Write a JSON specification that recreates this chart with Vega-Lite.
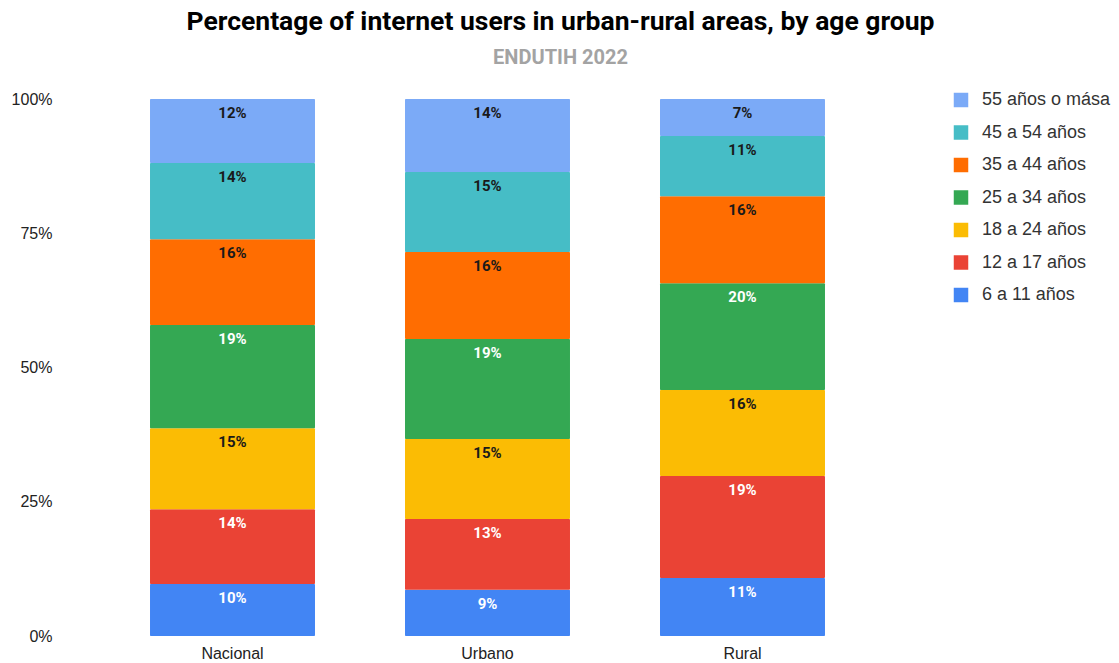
{
  "$schema": "https://vega.github.io/schema/vega-lite/v6.json",
  "autosize": "none",
  "width": 855,
  "height": 537,
  "padding": {"left": 60, "top": 99, "right": 204, "bottom": 27},
  "background": "white",
  "title": {
    "text": "Percentage of internet users in urban-rural areas, by age group",
    "subtitle": "ENDUTIH 2022",
    "anchor": "middle",
    "dx": 73,
    "offset": 23,
    "font": "Roboto",
    "fontSize": 26.5,
    "fontWeight": "bold",
    "color": "#000000",
    "subtitleFont": "Roboto",
    "subtitleFontSize": 20,
    "subtitleFontWeight": "bold",
    "subtitleColor": "#a3a3a3",
    "subtitlePadding": 13
  },
  "config": {"view": {"stroke": null}},
  "data": {
    "values": [
      {"area": "Nacional", "group": "6 a 11 años", "order": 1, "pct": 9.7, "label": "10%"},
      {"area": "Nacional", "group": "12 a 17 años", "order": 2, "pct": 13.9, "label": "14%"},
      {"area": "Nacional", "group": "18 a 24 años", "order": 3, "pct": 15.1, "label": "15%"},
      {"area": "Nacional", "group": "25 a 34 años", "order": 4, "pct": 19.2, "label": "19%"},
      {"area": "Nacional", "group": "35 a 44 años", "order": 5, "pct": 16.0, "label": "16%"},
      {"area": "Nacional", "group": "45 a 54 años", "order": 6, "pct": 14.2, "label": "14%"},
      {"area": "Nacional", "group": "55 años o mása", "order": 7, "pct": 11.9, "label": "12%"},
      {"area": "Urbano", "group": "6 a 11 años", "order": 1, "pct": 8.6, "label": "9%"},
      {"area": "Urbano", "group": "12 a 17 años", "order": 2, "pct": 13.2, "label": "13%"},
      {"area": "Urbano", "group": "18 a 24 años", "order": 3, "pct": 14.9, "label": "15%"},
      {"area": "Urbano", "group": "25 a 34 años", "order": 4, "pct": 18.6, "label": "19%"},
      {"area": "Urbano", "group": "35 a 44 años", "order": 5, "pct": 16.2, "label": "16%"},
      {"area": "Urbano", "group": "45 a 54 años", "order": 6, "pct": 14.9, "label": "15%"},
      {"area": "Urbano", "group": "55 años o mása", "order": 7, "pct": 13.6, "label": "14%"},
      {"area": "Rural", "group": "6 a 11 años", "order": 1, "pct": 10.8, "label": "11%"},
      {"area": "Rural", "group": "12 a 17 años", "order": 2, "pct": 19.0, "label": "19%"},
      {"area": "Rural", "group": "18 a 24 años", "order": 3, "pct": 16.0, "label": "16%"},
      {"area": "Rural", "group": "25 a 34 años", "order": 4, "pct": 19.9, "label": "20%"},
      {"area": "Rural", "group": "35 a 44 años", "order": 5, "pct": 16.2, "label": "16%"},
      {"area": "Rural", "group": "45 a 54 años", "order": 6, "pct": 11.2, "label": "11%"},
      {"area": "Rural", "group": "55 años o mása", "order": 7, "pct": 6.9, "label": "7%"}
    ]
  },
  "transform": [
    {"stack": "pct", "groupby": ["area"], "sort": [{"field": "order", "order": "ascending"}], "as": ["y0", "y1"]}
  ],
  "encoding": {
    "x": {
      "field": "area",
      "type": "nominal",
      "sort": ["Nacional", "Urbano", "Rural"],
      "scale": {"paddingInner": 0.353, "paddingOuter": 0.353},
      "axis": {
        "title": null,
        "labelAngle": 0,
        "domain": false,
        "ticks": false,
        "labelPadding": 9,
        "labelFont": "Liberation Sans",
        "labelFontSize": 16,
        "labelColor": "#222222"
      }
    }
  },
  "layer": [
    {
      "mark": {"type": "bar", "cornerRadius": 1},
      "encoding": {
        "y": {
          "field": "y0",
          "type": "quantitative",
          "scale": {"domain": [0, 100], "nice": false},
          "axis": {
            "title": null,
            "values": [0, 25, 50, 75, 100],
            "labelExpr": "datum.value + '%'",
            "domain": false,
            "ticks": false,
            "grid": false,
            "labelPadding": 8,
            "labelFont": "Liberation Sans",
            "labelFontSize": 16,
            "labelColor": "#222222"
          }
        },
        "y2": {"field": "y1"},
        "color": {
          "field": "group",
          "type": "nominal",
          "scale": {
            "domain": ["55 años o mása", "45 a 54 años", "35 a 44 años", "25 a 34 años", "18 a 24 años", "12 a 17 años", "6 a 11 años"],
            "range": ["#7baaf7", "#46bdc6", "#ff6d01", "#34a853", "#fbbc04", "#ea4335", "#4285f4"]
          },
          "legend": {
            "title": null,
            "orient": "none",
            "legendX": 892,
            "legendY": -8,
            "symbolType": "square",
            "symbolSize": 210,
            "symbolStrokeWidth": 0,
            "symbolOpacity": 1,
            "labelFont": "Liberation Sans",
            "labelFontSize": 18,
            "labelColor": "#333333",
            "labelOffset": 12,
            "rowPadding": 14.5
          }
        }
      }
    },
    {
      "mark": {"type": "text", "font": "Roboto", "fontWeight": "bold", "fontSize": 15, "baseline": "middle", "dy": 14},
      "encoding": {
        "y": {"field": "y1", "type": "quantitative"},
        "text": {"field": "label"},
        "color": {
          "condition": {"test": "indexof(['25 a 34 años','12 a 17 años','6 a 11 años'], datum.group) >= 0", "value": "#ffffff"},
          "value": "#1a1a1a"
        }
      }
    }
  ]
}
